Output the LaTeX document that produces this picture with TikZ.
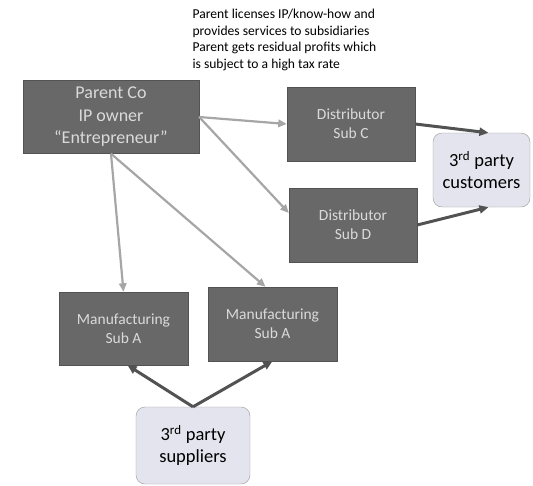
\documentclass[tikz,border=0pt]{standalone}
\usepackage{fontspec}
\setmainfont{Carlito}
\usepackage{xcolor}
\usepackage{tikz}
\usetikzlibrary{arrows.meta, positioning, calc}

\definecolor{boxgray}{HTML}{686868}
\definecolor{boxtext}{HTML}{DADADA}
\definecolor{partyfill}{HTML}{E4E4EE}

\begin{document}
\begin{tikzpicture}[
    x=1pt, y=-1pt,
    subnode/.style={rectangle, draw=boxgray!80!black, fill=boxgray, text=boxtext, align=center, font=\fontsize{15.5}{19}\selectfont, minimum width=128pt, minimum height=74pt, inner sep=2pt},
    parentnode/.style={subnode, font=\fontsize{18}{22.5}\selectfont, minimum width=176pt, minimum height=73pt},
    partynode/.style={rectangle, draw=gray!80, fill=partyfill, rounded corners=9pt, align=center, font=\fontsize{18.5}{22}\selectfont, minimum width=97pt, minimum height=74pt},
    lightline/.style={draw, -{Triangle[length=3mm, width=2.6mm]}, line width=2.2pt, gray!70},
    darkline/.style={draw, -{Triangle[length=3.2mm, width=2.8mm]}, line width=3pt, black!68}
]
    \useasboundingbox (0,0) rectangle (533,485);

    \node [anchor=north west, align=left, font=\fontsize{13.6}{16.5}\selectfont] (note) at (189,6) {Parent licenses IP/know-how and\\provides services to subsidiaries\\Parent gets residual profits which\\is subject to a high tax rate};

    \node [parentnode] (parent) at (111,117) {Parent Co\\IP owner\\``Entrepreneur''};

    \node [subnode] (distC) at (351,124) {Distributor\\Sub C};
    \node [subnode] (distD) at (353,225) {Distributor\\Sub D};

    \node [partynode] (cust) at (481.5,170) {3\textsuperscript{rd} party\\customers};

    \node [subnode, minimum width=129pt, minimum height=73pt] (manA) at (123.5,328.5) {Manufacturing\\Sub A};
    \node [subnode, minimum width=129pt] (manB) at (272.5,324) {Manufacturing\\Sub A};

    \node [partynode, minimum width=114pt, minimum height=77pt] (supp) at (193,445.5) {3\textsuperscript{rd} party\\suppliers};

    \draw [lightline] (parent.east) -- (distC.west);
    \draw [lightline] (parent.east) -- ([yshift=12pt]distD.west);
    \draw [lightline] (parent.south) -- (manA.north);
    \draw [lightline] (parent.south) -- ([xshift=-7pt]manB.north);

    \draw [darkline] (distC.east) -- ([xshift=7pt]cust.north);
    \draw [darkline] (distD.east) -- ([xshift=7pt]cust.south);
    \draw [darkline] (supp.north) -- ([xshift=4pt]manA.south);
    \draw [darkline] (supp.north) -- (manB.south);

\end{tikzpicture}
\end{document}
